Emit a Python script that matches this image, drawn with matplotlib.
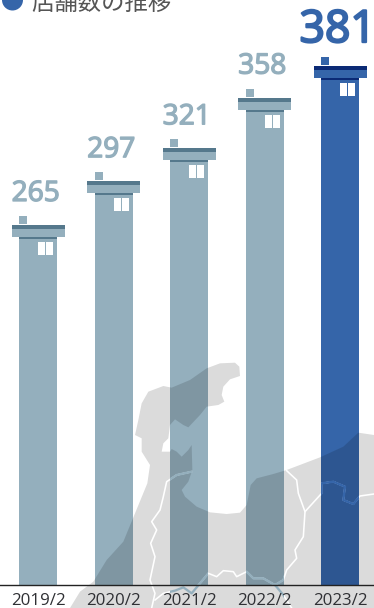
import math
import matplotlib
matplotlib.use("Agg")
import matplotlib.pyplot as plt
import matplotlib.patheffects as pe
from matplotlib.patches import Rectangle, Polygon, Circle
from matplotlib.transforms import Affine2D

years = ["2019/2", "2020/2", "2021/2", "2022/2", "2023/2"]
stores = [265, 297, 321, 358, 381]
title = "店舗数の推移"

GREY, GREY_DK = "#94afbd", "#55788c"
BLUE, BLUE_DK = "#3565a9", "#0b2a75"

# decorative map outline, traced in crop coordinates (3x, origin 60,350)
map_outline = [(30,774),(60,725),(100,695),(140,630),(190,575),(225,490),(262,400),(270,345),(245,305),
    (245,265),(225,255),(235,210),(245,160),(265,125),(310,108),(335,113),(390,90),(440,55),(480,40),
    (525,38),(538,50),(540,78),(510,88),(490,110),(485,135),(493,155),(475,165),(440,170),(420,195),
    (385,232),(370,225),(345,208),(330,225),(325,265),(310,280),(305,305),(330,305),(335,297),(350,305),
    (365,320),(385,300),(395,285),(397,360),(385,395),(365,420),(375,440),(410,470),(450,487),(500,492),
    (540,488),(560,465),(572,405),(590,385),(640,372),(680,360),(780,322),(850,290),(895,248),(942,255),
    (942,774)]
map_borders = [
    [(395,365),(350,375),(320,395),(310,440),(300,480),(275,515),(290,540),(272,580),(285,620),(270,690),(285,730),(275,774)],
    [(680,362),(710,390),(715,430),(735,485),(730,560),(705,600),(710,625),(680,660),(670,690),(645,705),(670,735),(695,774)],
    [(285,750),(310,730),(345,722),(370,712),(395,730),(420,700),(445,670),(470,680),(490,662),(520,665),(530,680),(560,665),(580,685),(610,685),(645,705)],
    [(735,485),(785,430),(785,400),(820,395),(855,410),(850,450),(880,462),(900,438),(942,432)],
]

W, H = 374, 608
fig = plt.figure(figsize=(W/100, H/100), dpi=100)
ax = fig.add_axes([0, (H-585)/H, 1, 585/H])
XLIM = (-38.2/75.5, (374-38.2)/75.5)
ax.set_xlim(*XLIM)
ax.set_ylim(10.9, 438)
ax.set_axisbelow(False)
for s in ("top", "left", "right"):
    ax.spines[s].set_visible(False)
ax.spines["bottom"].set_color("#222222")
ax.spines["bottom"].set_linewidth(1.0)
ax.spines["bottom"].set_zorder(5)
ax.set_yticks([])
ax.set_xticks(range(len(years)), years, family="Open Sans", fontsize=12.2, color="#2f3034")
ax.tick_params(axis="x", length=0, pad=5.5)

BAR_W = 38 / 75.5
bars = ax.bar(range(len(years)), stores, bottom=0, width=BAR_W,
              color=[GREY]*4 + [BLUE], zorder=1)

fig.canvas.draw()

def house(i, v, col, dk):
    ox_raw, oy = ax.transData.transform((i, v))
    cx = round(ox_raw)
    t = Affine2D().scale(1, -1).translate(cx, round(oy))
    def r(x, y, w, h, c):
        ax.add_patch(Rectangle((x, y), w, h, fc=c, ec="none", transform=t, zorder=1.2,
                               clip_on=False, snap=False, antialiased=False))
    roof_x = math.floor(ox_raw - 26.1) - cx
    r(roof_x, -12, 53, 12, col)
    r(roof_x, -12, 53, 4, dk)
    r(-19, -21, 8, 8, col)
    r(-19, 0, 38, 2, dk)
    r(0, 5, 7, 12.5, "white")
    r(8, 5, 7, 12.5, "white")

for i, v in enumerate(stores):
    col, dk = (BLUE, BLUE_DK) if i == 4 else (GREY, GREY_DK)
    house(i, v, col, dk)
    big = i == 4
    ax.annotate(str(v), (i, v), xytext=(-2.5 / 100 * 72, 36 / 100 * 72), textcoords="offset points",
                ha="center", va="baseline", family="Open Sans",
                fontsize=32 if big else 20.2, color=col, zorder=3, annotation_clip=False,
                path_effects=[pe.withStroke(linewidth=1.6 if big else 1.0, foreground=col)])

# decorative map, darkening whatever lies beneath it
mt = Affine2D().scale(1/3, -1/3).translate(60, H-350)
ax.add_patch(Polygon(map_outline, closed=True, fc=(0, 0.005, 0.015, 0.14), ec="none",
                     transform=mt, zorder=2, clip_on=False))
for b in map_borders:
    xs, ys = zip(*b)
    ax.plot(xs, ys, color="white", lw=1.15, transform=mt, zorder=2.1, clip_on=False, solid_joinstyle="round")
    for bar in bars:
        ln, = ax.plot(xs, ys, color=bar.get_facecolor(), lw=1.7, transform=mt, zorder=2.2, solid_joinstyle="round")
        ln.set_clip_path(bar)

ax.set_xlim(*XLIM)
ax.set_ylim(10.9, 438)

# clipped heading at the top
px = Affine2D().scale(1, -1).translate(0, H)
fig.add_artist(Circle((12.5, 0), 10.5, fc=BLUE, ec="none", transform=px))
fig.text(31/W, 1-9.5/H, title, family="Noto Sans CJK JP", fontsize=16.8, color="#555555", va="baseline", ha="left")

fig.savefig("out.png", dpi=100)
